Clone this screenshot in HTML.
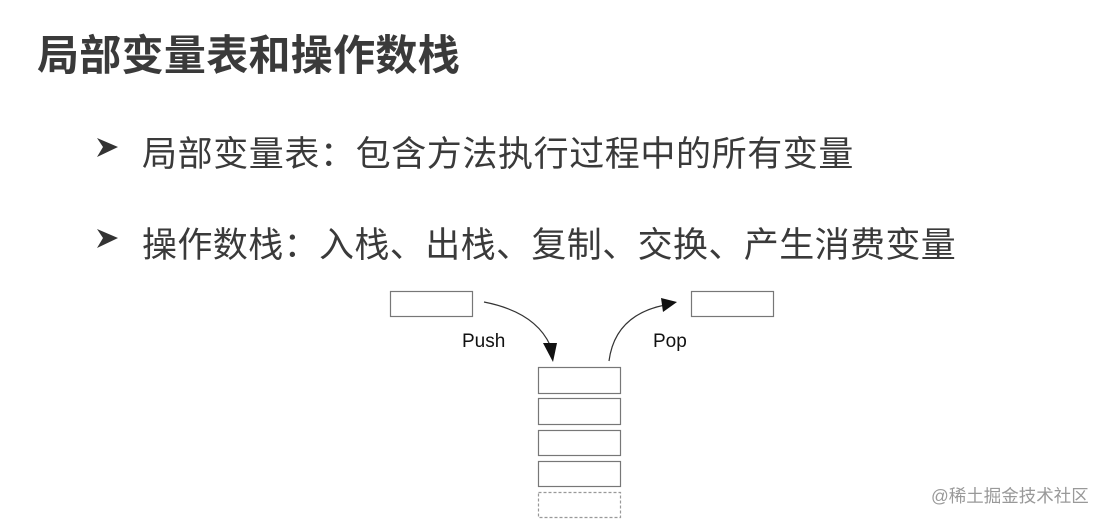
<!DOCTYPE html>
<html><head><meta charset="utf-8"><style>
html,body{margin:0;padding:0;background:#fff;}
body{width:1108px;height:521px;position:relative;overflow:hidden;font-family:"Liberation Sans","Noto Sans CJK SC",sans-serif;}
.t{position:absolute;white-space:nowrap;color:#333;}
</style></head><body>
<div class="t" style="left:37px;top:22px;font-size:42px;font-weight:bold;color:#3a3a3a;letter-spacing:0.3px;">局部变量表和操作数栈</div>
<div class="t" style="left:142px;top:126px;font-size:35px;color:#3a3a3a;letter-spacing:0.6px;">局部变量表：包含方法执行过程中的所有变量</div>
<div class="t" style="left:142px;top:217px;font-size:35px;color:#3a3a3a;letter-spacing:0.4px;">操作数栈：入栈、出栈、复制、交换、产生消费变量</div>
<svg width="1108" height="521" style="position:absolute;left:0;top:0">
<polygon points="97,138 118,147 97,157 103,147" fill="#333"/>
<polygon points="97,229 118,238 97,248 103,238" fill="#333"/>
<g fill="none" stroke="#777" stroke-width="1.2">
<rect x="390.5" y="291.5" width="82" height="25"/>
<rect x="691.5" y="291.5" width="82" height="25"/>
<rect x="538.5" y="367.5" width="82" height="26"/>
<rect x="538.5" y="398.5" width="82" height="26"/>
<rect x="538.5" y="430.5" width="82" height="25"/>
<rect x="538.5" y="461.5" width="82" height="25"/>
<rect x="538.5" y="492.5" width="82" height="25" stroke-dasharray="3,2" stroke="#999"/>
<path d="M484,302 Q535,312 550,345" stroke="#333"/>
<path d="M609,361 Q615,315 665,305" stroke="#333"/>
</g>
<polygon points="543,343 557,343 553,362" fill="#111"/>
<polygon points="661,298 677,302 663,312" fill="#111"/>
<text x="462" y="347" font-size="19" fill="#111" font-family="Liberation Sans,sans-serif">Push</text>
<text x="653" y="347" font-size="19" fill="#111" font-family="Liberation Sans,sans-serif">Pop</text>
</svg>
<div class="t" style="left:931px;top:483px;font-size:17.5px;color:#999;">@稀土掘金技术社区</div>
</body></html>
